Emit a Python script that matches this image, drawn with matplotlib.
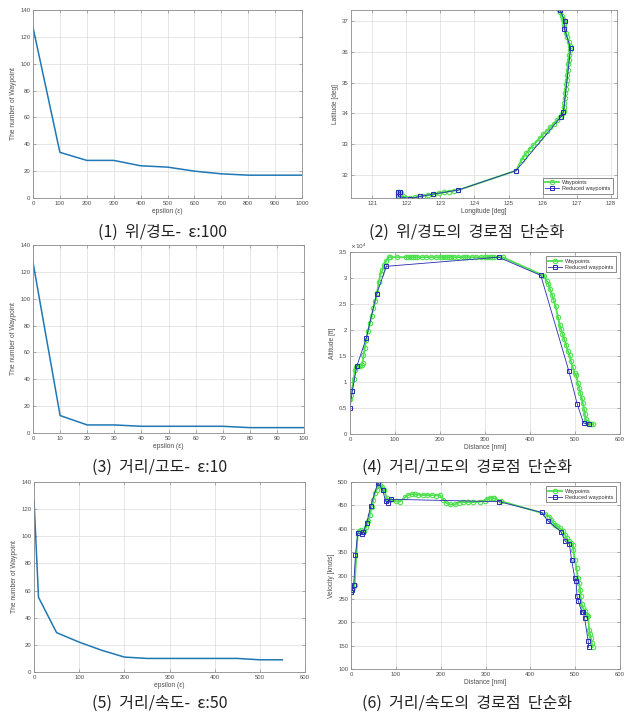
import matplotlib
matplotlib.use("Agg")
import matplotlib.pyplot as plt
from matplotlib.ticker import FuncFormatter

W, H = 629, 714

# ---- epsilon sweeps (number of remaining waypoints) ----
eps_latlon = [0, 100, 200, 300, 400, 500, 600, 700, 800, 900, 1000]
n_latlon = [127, 34, 28, 28, 24, 23, 20, 18, 17, 17, 17]

eps_alt = [0, 10, 20, 30, 40, 50, 60, 70, 80, 90, 100]
n_alt = [127, 13, 6, 6, 5, 5, 5, 5, 4, 4, 4]

eps_vel = [0, 10, 50, 100, 150, 200, 250, 300, 350, 400, 450, 500, 550]
n_vel = [127, 55, 29, 22, 16, 11, 10, 10, 10, 10, 10, 9, 9]

# ---- latitude / longitude path ----
lon_wp = [126.49, 126.52, 126.56, 126.60, 126.63, 126.63, 126.64, 126.68, 126.72,
          126.77, 126.80, 126.80, 126.78, 126.76, 126.74, 126.73, 126.72, 126.71,
          126.69, 126.67, 126.66, 126.65, 126.64, 126.63, 126.62, 126.58, 126.52,
          126.42, 126.32, 126.22, 126.12, 126.02, 125.92, 125.82, 125.72, 125.62,
          125.52, 125.44, 125.38, 125.22, 123.53, 123.40, 123.25, 123.10, 122.95,
          122.80, 122.65, 122.50, 122.38, 122.25, 122.12, 122.00, 121.90, 121.82,
          121.78, 121.75, 121.80, 121.85, 121.78, 121.75]
lat_wp = [37.36, 37.28, 37.18, 37.08, 37.00, 36.90, 36.80, 36.62, 36.47,
          36.32, 36.20, 36.05, 35.90, 35.75, 35.60, 35.40, 35.25, 35.10,
          34.95, 34.80, 34.65, 34.50, 34.35, 34.20, 34.08, 33.98, 33.88,
          33.78, 33.66, 33.55, 33.43, 33.32, 33.20, 33.08, 32.96, 32.84,
          32.70, 32.58, 32.48, 32.14, 31.51, 31.49, 31.46, 31.44, 31.41,
          31.38, 31.35, 31.32, 31.30, 31.27, 31.24, 31.26, 31.30, 31.34,
          31.40, 31.44, 31.45, 31.42, 31.30, 31.38]
lon_red = [126.51, 126.65, 126.64, 126.82, 126.61, 126.54, 125.22, 123.53,
           122.77, 122.41, 122.11, 121.77, 121.77, 121.82]
lat_red = [37.35, 37.01, 36.74, 36.11, 34.05, 33.89, 32.14, 31.51,
           31.37, 31.30, 31.23, 31.30, 31.43, 31.44]

# ---- distance / altitude ----
dist_alt_wp = [0, 2, 4, 8, 11, 14, 18, 22, 26, 28, 30, 33, 36, 40, 44, 48, 52, 56,
               60, 64, 68, 72, 76, 80, 86, 90, 105, 125, 130, 135, 140, 145, 150,
               160, 170, 180, 190, 200, 205, 210, 215, 220, 225, 230, 240, 250,
               255, 260, 270, 280, 290, 300, 305, 310, 315, 320, 339, 432, 437,
               441, 444, 449, 452, 457, 462, 466, 469, 472, 476, 480, 484, 488,
               491, 495, 499, 503, 506, 509, 512, 515, 517, 520, 522, 524, 526,
               528, 532, 536, 540]
alt_wp = [6800, 7500, 8300, 10500, 12300, 12900, 13000, 13000, 13200, 13700,
          15200, 16500, 18000, 19800, 21300, 22600, 24200, 25500, 27100, 29300,
          30800, 31500, 32500, 33200, 34000, 34000, 34000, 34000, 34000, 34000,
          34000, 34000, 34000, 34000, 34000, 34000, 34000, 34000, 34000, 34000,
          34000, 34000, 34000, 34000, 34000, 34000, 34000, 34000, 34000, 34000,
          34000, 34000, 34000, 34000, 34000, 34000, 34000, 30400, 29400, 28900,
          27900, 26800, 25800, 24600, 22500, 21000, 20200, 19300, 18200, 17200,
          16000, 15100, 14000, 12800, 11700, 11300, 9800, 8900, 7800, 7000,
          6000, 4800, 3800, 2900, 2400, 2100, 2000, 1900, 1900]
dist_alt_red = [0, 5, 15, 36, 59, 81, 330, 424, 486, 505, 519, 530]
alt_red = [5000, 8200, 13000, 18400, 26900, 32250, 34000, 30500, 12200, 5750, 2100, 1900]

# ---- distance / velocity ----
dist_vel_wp = [0, 2, 5, 8, 15, 18, 22, 26, 30, 34, 39, 42, 46, 50, 53, 57, 61, 65,
               70, 74, 80, 87, 100, 109, 120, 128, 135, 142, 150, 160, 170, 180,
               190, 198, 206, 213, 221, 232, 240, 250, 260, 273, 288, 298, 303,
               310, 316, 320, 335, 432, 442, 447, 451, 456, 460, 466, 472, 477,
               481, 486, 491, 495, 496, 499, 503, 506, 509, 511, 512, 515, 517,
               522, 526, 529, 531, 533, 535, 537, 539]
vel_wp = [265, 268, 273, 280, 391, 396, 397, 393, 396, 404, 416, 430, 447, 462,
          476, 483, 493, 494, 490, 483, 465, 462, 459, 458, 467, 472, 474, 474,
          473, 472, 472, 472, 471, 472, 462, 455, 452, 452, 456, 457, 457, 457,
          458, 460, 464, 466, 466, 465, 459, 432, 426, 419, 412, 408, 405, 401,
          396, 387, 380, 373, 369, 366, 355, 334, 316, 295, 284, 270, 256, 238,
          231, 224, 216, 213, 184, 174, 167, 156, 147]
dist_vel_red = [0, 3, 6, 10, 15, 24, 27, 35, 44, 60, 71, 77, 82, 89, 330, 425, 439,
                468, 478, 487, 492, 499, 502, 504, 507, 515, 518, 521, 529, 530]
vel_red = [265, 269, 280, 344, 391, 388, 392, 412, 449, 498, 482, 459, 455, 463,
           458, 435, 417, 394, 373, 368, 334, 295, 288, 256, 245, 222, 222, 209, 160, 146]

captions = ["(1) 위/경도- ε:100", "(2) 위/경도의 경로점 단순화",
            "(3) 거리/고도- ε:10", "(4) 거리/고도의 경로점 단순화",
            "(5) 거리/속도- ε:50", "(6) 거리/속도의 경로점 단순화"]

EPS_LABEL = "epsilon (ε)"
N_LABEL = "The number of Waypoint"
LINE_BLUE = "#1f77b4"
WP_GREEN = "#4ee04e"
RED_BLUE = "#2a2ab8"
TEXT_GRAY = "#4d4d4d"


def px_axes(fig, left, right, top, bottom):
    """Add axes given pixel edges measured from the top-left corner."""
    return fig.add_axes([left / W, 1 - bottom / H, (right - left) / W, (bottom - top) / H])


def matlab_style(ax):
    ax.grid(True, color="#dcdcdc", lw=0.5)
    ax.set_axisbelow(True)
    for sp in ax.spines.values():
        sp.set_color("#8c8c8c")
        sp.set_linewidth(0.6)
    ax.tick_params(direction="in", length=2, width=0.5, labelsize=4.3,
                   colors="#8c8c8c", labelcolor=TEXT_GRAY, pad=2,
                   top=True, right=True)


def label(ax, xlabel, ylabel):
    ax.set_xlabel(xlabel, fontsize=4.8, color=TEXT_GRAY, labelpad=1.5)
    ax.set_ylabel(ylabel, fontsize=4.8, color=TEXT_GRAY, labelpad=2)


def eps_plot(ax, x, y, xlim, xticks):
    ax.plot(x, y, color=LINE_BLUE, lw=1.1)
    ax.set_xlim(*xlim)
    ax.set_ylim(0, 140)
    ax.set_xticks(xticks)
    ax.set_yticks(range(0, 141, 20))
    matlab_style(ax)
    label(ax, EPS_LABEL, N_LABEL)


def path_plot(ax, x_wp, y_wp, x_red, y_red, legend_loc):
    ax.plot(x_wp, y_wp, "-o", color=WP_GREEN, lw=1.3, ms=3.2, mew=0.8,
            mfc="none", label="Waypoints")
    ax.plot(x_red, y_red, "-s", color=RED_BLUE, lw=0.6, ms=2.6, mew=0.7,
            mfc="none", label="Reduced waypoints")
    matlab_style(ax)
    leg = ax.legend(loc=legend_loc, fontsize=4, frameon=True, fancybox=False,
                    handlelength=2.6, borderpad=0.4, labelspacing=0.2,
                    handletextpad=0.5, borderaxespad=0.8)
    leg.get_frame().set_edgecolor("#333333")
    leg.get_frame().set_linewidth(0.5)
    for t in leg.get_texts():
        t.set_color("#333333")


fig = plt.figure(figsize=(W / 100, H / 100), dpi=100)
plt.rcParams["font.family"] = ["Liberation Sans", "DejaVu Sans"]

# (1) lat/lon epsilon sweep
ax1 = px_axes(fig, 33, 302, 10, 198)
eps_plot(ax1, eps_latlon, n_latlon, (0, 1000), range(0, 1001, 100))

# (2) lat/lon path
ax2 = px_axes(fig, 351, 617, 10, 198)
path_plot(ax2, lon_wp, lat_wp, lon_red, lat_red, "lower right")
ax2.set_xlim(120.38, 128.18)
ax2.set_ylim(31.25, 37.36)
ax2.set_xticks(range(121, 129))
ax2.set_yticks(range(32, 38))
label(ax2, "Longitude [deg]", "Latitude [deg]")

# (3) distance/altitude epsilon sweep
ax3 = px_axes(fig, 33, 304, 245, 433)
eps_plot(ax3, eps_alt, n_alt, (0, 100), range(0, 101, 10))

# (4) distance/altitude path
ax4 = px_axes(fig, 350, 620, 252, 434)
path_plot(ax4, dist_alt_wp, alt_wp, dist_alt_red, alt_red, "upper right")
ax4.set_xlim(0, 600)
ax4.set_ylim(0, 35000)
ax4.set_yticks(range(0, 35001, 5000))
ax4.yaxis.set_major_formatter(FuncFormatter(lambda v, p: f"{v / 1e4:g}"))
ax4.text(0.0, 1.005, r"$\times10^{4}$", transform=ax4.transAxes, fontsize=4.3,
         color=TEXT_GRAY, ha="left", va="bottom")
label(ax4, "Distance [nmi]", "Altitude [ft]")

# (5) distance/velocity epsilon sweep
ax5 = px_axes(fig, 34, 305, 482, 672)
eps_plot(ax5, eps_vel, n_vel, (0, 600), range(0, 601, 100))

# (6) distance/velocity path
ax6 = px_axes(fig, 351, 620, 482, 669)
path_plot(ax6, dist_vel_wp, vel_wp, dist_vel_red, vel_red, "upper right")
ax6.set_xlim(0, 600)
ax6.set_ylim(100, 500)
ax6.set_yticks(range(100, 501, 50))
label(ax6, "Distance [nmi]", "Velocity [knots]")

# Korean captions under each panel
cap_pos = [(163, 232), (467, 232), (160, 467), (467, 467), (160, 703), (467, 703)]
for text, (cx, cy) in zip(captions, cap_pos):
    fig.text(cx / W, 1 - cy / H, text.replace(" ", "  "), ha="center", va="center",
             fontsize=11.5, family=["Noto Sans CJK KR", "DejaVu Sans"], color="#222222")

fig.savefig("out.png", dpi=100)
